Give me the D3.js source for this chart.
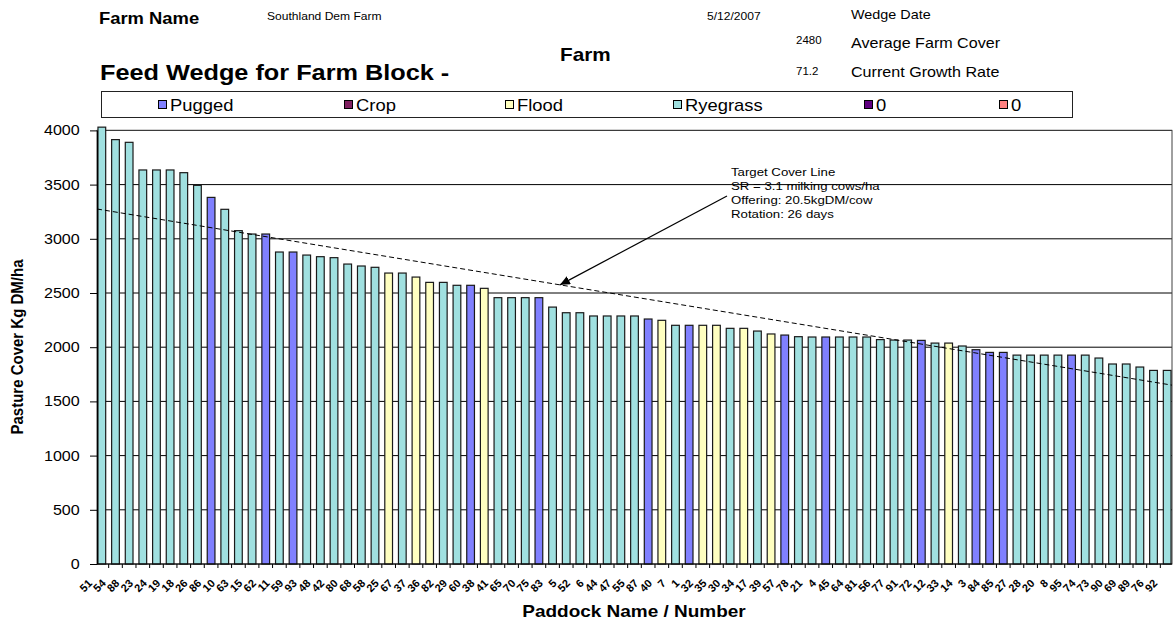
<!DOCTYPE html>
<html>
<head>
<meta charset="utf-8">
<script src="https://cdnjs.cloudflare.com/ajax/libs/d3/7.8.5/d3.min.js"></script>
<style>
  body { margin: 0; background: #fff; }
  text { font-family: "Liberation Sans", Arial, sans-serif; fill: #000; }
</style>
</head>
<body>
<script>
'use strict'

// paddocks in wedge order (highest cover first)
const paddocks = [
  '51', '54', '88', '23', '24', '19', '18', '26', '86', '10',
  '63', '15', '62', '11', '59', '93', '48', '42', '80', '68',
  '58', '25', '67', '37', '36', '82', '29', '60', '38', '41',
  '65', '70', '75', '83', '5', '52', '6', '44', '47', '55',
  '87', '40', '7', '1', '32', '35', '30', '34', '17', '39',
  '57', '78', '21', '4', '45', '64', '81', '56', '77', '91',
  '72', '12', '33', '14', '3', '84', '85', '27', '28', '20',
  '8', '95', '74', '73', '90', '69', '89', '76', '92'
]

// pasture cover, kg DM/ha
const cover = [
  4030, 3915, 3890, 3635, 3635, 3635, 3610, 3493, 3382, 3272,
  3075, 3044, 3044, 2878, 2878, 2850, 2835, 2826, 2767, 2749,
  2737, 2684, 2684, 2647, 2598, 2598, 2571, 2571, 2543, 2457,
  2457, 2457, 2457, 2370, 2318, 2318, 2288, 2288, 2288, 2288,
  2260, 2248, 2202, 2202, 2202, 2202, 2174, 2174, 2149, 2122,
  2112, 2097, 2094, 2094, 2094, 2094, 2094, 2070, 2066, 2066,
  2063, 2038, 2038, 2011, 1977, 1952, 1952, 1927, 1927, 1927,
  1927, 1927, 1927, 1900, 1845, 1845, 1817, 1786, 1786
]

// P = Pugged, F = Flood, R = Ryegrass
const landUse = (
  'RRRRRRRRPRRRPRPRRRRR' +
  'RFRFFRRPFRRRPRRRRRRR' +
  'PFRPFFRFRFPRRPRRRRRR' +
  'PRFRPPPRRRRPRRRRRRR'
).split('')

const legendNames  = ['Pugged', 'Crop', 'Flood', 'Ryegrass', '0', '0']
const legendCodes  = ['P', 'C', 'F', 'R', 'X', 'Y']
const legendColors = ['#8080FF', '#802060', '#FFFFC0', '#A0E0E0', '#600080', '#FF8080']

const yTicks = [0, 500, 1000, 1500, 2000, 2500, 3000, 3500, 4000]

// target cover line, value at left and right edge of the plot
const targetCover = [3275, 1650]
const targetNotes = [
  'Target Cover Line',
  'SR = 3.1 milking cows/ha',
  'Offering: 20.5kgDM/cow',
  'Rotation: 26 days'
]

const W = 1174, H = 621
const SX = 1.15   // the original text is a little wider than the font
const plot = { left: 97, right: 1172, top: 130.4, bottom: 564 }

const color = d3.scaleOrdinal().domain(legendCodes).range(legendColors)

const svg = d3.select('body')
  .append('svg')
  .attr('width', W)
  .attr('height', H)

function label(str, x, y, size, weight, anchor) {
  return svg.append('text')
    .attr('transform', `translate(${ x },${ y }) scale(${ SX },1)`)
    .attr('font-size', size)
    .attr('font-weight', weight || 'normal')
    .attr('text-anchor', anchor || 'start')
    .text(str)
}

// header block
label('Farm Name', 99, 24, 16, 'bold')
label('Southland Dem Farm', 267, 20, 10.5)
label('5/12/2007', 707, 20, 10.5)
label('Wedge Date', 851, 19, 12.5)
label('2480', 796, 44, 10)
label('Average Farm Cover', 851, 47.5, 14)
label('Farm', 560, 61, 18, 'bold')
label('Feed Wedge for Farm Block -', 100, 80, 22, 'bold')
label('71.2', 796, 74.5, 10)
label('Current Growth Rate', 851, 76.5, 14)

// legend
svg.append('rect')
  .attr('x', 101.5).attr('y', 91.5)
  .attr('width', 971).attr('height', 26)
  .attr('fill', '#fff')
  .attr('stroke', '#222')

const legendX = [170, 356, 517, 685, 876, 1011]
legendNames.forEach((name, i) => {
  svg.append('rect')
    .attr('x', legendX[i] - 11.5).attr('y', 100.5)
    .attr('width', 8).attr('height', 8)
    .attr('fill', legendColors[i])
    .attr('stroke', '#000')
  label(name, legendX[i], 110.5, 16)
})

// scales
const x = d3.scaleBand()
  .domain(paddocks)
  .range([95, 1174])
  .paddingInner(0.435)
  .paddingOuter(0.2175)

const y = d3.scaleLinear()
  .domain([0, 4000])
  .range([plot.bottom, plot.top])

// gridlines
svg.append('g')
  .selectAll('line')
  .data(yTicks.filter(d => d > 0))
  .join('line')
  .attr('x1', plot.left).attr('x2', plot.right)
  .attr('y1', d => y(d)).attr('y2', d => y(d))
  .attr('stroke', '#000')
  .attr('stroke-width', 1)

svg.append('rect')
  .attr('x', plot.left).attr('y', plot.top)
  .attr('width', plot.right - plot.left)
  .attr('height', plot.bottom - plot.top)
  .attr('fill', 'none')
  .attr('stroke', '#404040')

// bars
svg.append('g')
  .selectAll('rect')
  .data(paddocks)
  .join('rect')
  .attr('x', d => x(d))
  .attr('width', x.bandwidth())
  .attr('y', (d, i) => y(cover[i]))
  .attr('height', (d, i) => plot.bottom - y(cover[i]))
  .attr('fill', (d, i) => color(landUse[i]))
  .attr('stroke', '#1a1a1a')
  .attr('stroke-width', 1.2)

// target cover line
const targetAt = px => targetCover[0] +
  (targetCover[1] - targetCover[0]) * (px - plot.left) / (plot.right - plot.left)

svg.append('line')
  .attr('x1', plot.left).attr('y1', y(targetCover[0]))
  .attr('x2', plot.right).attr('y2', y(targetCover[1]))
  .attr('stroke', '#000')
  .attr('stroke-width', 1)
  .attr('stroke-dasharray', '5,3')

// y axis
const yAxis = svg.append('g')
  .attr('transform', `translate(${ plot.left },0)`)
  .call(d3.axisLeft(y)
    .tickValues(yTicks)
    .tickFormat(d3.format('d'))
    .tickSize(7)
    .tickSizeOuter(0)
    .tickPadding(8))

yAxis.select('.domain').attr('stroke', '#000')
yAxis.selectAll('.tick line').attr('stroke', '#000')
yAxis.selectAll('.tick text')
  .attr('font-size', 14)
  .attr('font-family', '"Liberation Sans", Arial, sans-serif')
  .attr('fill', '#000')
  .attr('transform', `scale(${ SX },1)`)

// x axis, ticks between categories
svg.append('line')
  .attr('x1', plot.left).attr('x2', plot.right)
  .attr('y1', plot.bottom).attr('y2', plot.bottom)
  .attr('stroke', '#000')

svg.append('g')
  .selectAll('line')
  .data(paddocks.slice(1))
  .join('line')
  .attr('x1', d => x(d) - x.step() * x.paddingInner() / 2)
  .attr('x2', d => x(d) - x.step() * x.paddingInner() / 2)
  .attr('y1', plot.bottom).attr('y2', plot.bottom + 4)
  .attr('stroke', '#000')

svg.append('g')
  .selectAll('text')
  .data(paddocks)
  .join('text')
  .attr('transform', d => `translate(${ x(d) + x.bandwidth() / 2 - 9 },584) rotate(-45)`)
  .attr('text-anchor', 'end')
  .attr('font-size', 11)
  .attr('font-weight', 'bold')
  .text(d => d)

// axis titles
svg.append('text')
  .attr('transform', `translate(23,347) scale(${ SX },1) rotate(-90)`)
  .attr('text-anchor', 'middle')
  .attr('font-size', 15)
  .attr('font-weight', 'bold')
  .text('Pasture Cover Kg DM/ha')

label('Paddock Name / Number', 634, 617, 16.5, 'bold', 'middle')

// annotation with arrow onto the target line
svg.append('defs')
  .append('marker')
  .attr('id', 'head')
  .attr('markerUnits', 'userSpaceOnUse')
  .attr('markerWidth', 11).attr('markerHeight', 9)
  .attr('refX', 10).attr('refY', 4.5)
  .attr('orient', 'auto')
  .append('path')
  .attr('d', 'M0,0 L10,4.5 L0,9 Z')
  .attr('fill', '#000')

const tipX = 560
svg.append('line')
  .attr('x1', 727).attr('y1', 196)
  .attr('x2', tipX).attr('y2', y(targetAt(tipX)))
  .attr('stroke', '#000')
  .attr('stroke-width', 1.2)
  .attr('marker-end', 'url(#head)')

targetNotes.forEach((t, i) => label(t, 731, 176 + i * 14, 11.5))
</script>
</body>
</html>
